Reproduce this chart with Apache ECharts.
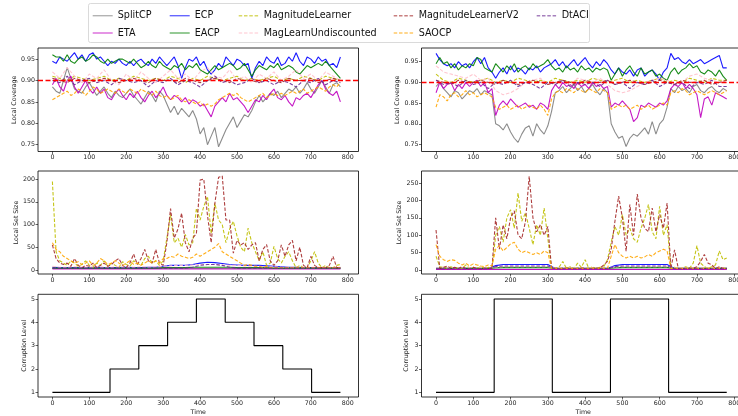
<!DOCTYPE html>
<html>
<head>
<meta charset="utf-8">
<script src="https://cdn.jsdelivr.net/npm/echarts@6/dist/echarts.min.js"></script>
<style>
html, body { margin: 0; padding: 0; overflow: hidden; background: #fff; }
#chart { width: 760px; height: 416px; }
</style>
</head>
<body>
<div id="chart"></div>
<script>
// methods, in legend / drawing order
const methods = ['SplitCP', 'ETA', 'ECP', 'EACP', 'MagnitudeLearner', 'MagLearnUndiscounted', 'MagnitudeLearnerV2', 'SAOCP', 'DtACI']
const methodColors = ['#808080', '#bf00bf', '#0000ff', '#008000', '#bfbf00', '#ffc0cb', '#a52a2a', '#ffa500', '#6a2c91']
const dashedMethods = ['MagnitudeLearner', 'MagLearnUndiscounted', 'MagnitudeLearnerV2', 'SAOCP', 'DtACI']

const xTicks = [0, 100, 200, 300, 400, 500, 600, 700, 800]
const coverageTicks = [0.75, 0.80, 0.85, 0.90, 0.95]
const setSizeTicksLeft = [0, 50, 100, 150, 200]
const setSizeTicksRight = [0, 50, 100, 150, 200, 250]
const levelTicks = [1, 2, 3, 4, 5]
const targetCoverage = 0.9

/** local coverage, left run (every 10 steps unless noted) */
const covL_SplitCP = [.885,.875,.87,.9,.93,.905,.88,.875,.87,.885,
  .895,.88,.865,.875,.885,.87,.86,.875,.865,.86,
  .87,.88,.865,.855,.845,.86,.875,.865,.85,.875,
  .865,.845,.825,.84,.82,.835,.825,.815,.83,.81,
  .775,.79,.75,.77,.79,.745,.765,.785,.8,.815,
  .79,.805,.82,.815,.83,.85,.865,.85,.86,.87,
  .865,.875,.86,.87,.88,.875,.885,.87,.88,.895,
  .88,.87,.885,.9,.885,.87,.89,.895,.885]
const covL_ETA = [.89,.905,.885,.875,.9,.91,.885,.87,.885,.9,
  .88,.87,.885,.87,.88,.86,.855,.87,.88,.865,
  .855,.87,.86,.875,.86,.85,.865,.875,.86,.87,
  .885,.865,.855,.865,.86,.85,.86,.845,.855,.85,
  .84,.845,.83,.815,.84,.85,.86,.85,.87,.855,
  .86,.85,.84,.825,.84,.855,.85,.865,.855,.87,
  .88,.86,.855,.865,.85,.84,.86,.855,.865,.87,
  .86,.875,.89,.9,.88,.87,.865,.875,.85]
const covL_ECP = [.945,.94,.955,.95,.945,.955,.965,.95,.96,.945,
  .96,.965,.95,.955,.945,.935,.945,.94,.95,.94,
  .935,.945,.935,.945,.95,.94,.935,.95,.94,.955,
  .945,.935,.945,.955,.935,.905,.93,.95,.945,.955,
  .935,.945,.925,.915,.925,.94,.93,.955,.945,.935,
  .95,.945,.935,.94,.905,.93,.945,.935,.955,.945,
  .94,.955,.935,.94,.955,.945,.965,.945,.935,.955,
  .95,.94,.955,.945,.95,.935,.94,.93,.955]
const covL_EACP = [.96,.955,.955,.945,.96,.945,.94,.95,.955,.945,
  .95,.96,.955,.945,.94,.95,.94,.945,.95,.95,
  .945,.94,.95,.94,.93,.935,.945,.935,.93,.945,
  .935,.93,.925,.935,.93,.94,.925,.935,.93,.94,
  .925,.92,.915,.925,.935,.925,.93,.935,.94,.935,
  .925,.93,.94,.925,.91,.925,.935,.93,.925,.935,
  .93,.94,.925,.93,.935,.93,.92,.915,.925,.935,
  .93,.935,.94,.935,.945,.935,.925,.915,.905]
const covL_SAOCP = [.855,.86,.865,.87,.875,.865,.87,.88,.875,.865,
  .875,.885,.88,.87,.875,.88,.875,.87,.88,.875,
  .87,.88,.875,.87,.88,.875,.87,.865,.875,.865,
  .86,.865,.855,.86,.865,.855,.85,.855,.85,.845,
  .85,.84,.845,.84,.845,.855,.86,.865,.87,.865,
  .87,.86,.855,.85,.855,.86,.865,.87,.86,.865,
  .87,.865,.87,.865,.87,.875,.87,.875,.88,.87,
  .875,.88,.885,.88,.875,.885,.89,.885,.895]
// every 20 steps
const covL_ML = [.91,.905,.9,.91,.905,.9,.905,.91,.9,.905,.9,.91,.905,.9,.905,.9,.91,.905,.895,.905,
  .9,.91,.905,.9,.905,.91,.9,.905,.9,.905,.91,.9,.905,.9,.91,.905,.9,.91,.905,.9]
const covL_MLU = [.92,.905,.93,.91,.895,.915,.905,.925,.9,.89,.915,.9,.92,.905,.895,.91,.925,.905,.915,.9,
  .92,.93,.91,.905,.925,.9,.91,.895,.915,.905,.92,.9,.91,.925,.905,.915,.9,.92,.91,.9]
const covL_MLV2 = [.905,.9,.895,.905,.9,.895,.9,.905,.9,.895,.9,.905,.9,.895,.905,.9,.9,.895,.905,.9,
  .895,.9,.905,.9,.895,.905,.9,.9,.895,.905,.9,.895,.905,.9,.9,.905,.895,.9,.905,.9]
const covL_DtACI = [.9,.895,.91,.89,.9,.905,.895,.9,.89,.905,.9,.895,.9,.885,.9,.895,.905,.89,.9,.895,
  .885,.9,.91,.895,.9,.89,.895,.905,.895,.9,.89,.9,.895,.885,.9,.895,.905,.89,.9,.895]

/** local coverage, right run */
const covR_SplitCP = [.89,.9,.885,.875,.865,.88,.875,.86,.87,.88,
  .875,.885,.87,.88,.875,.87,.8,.795,.785,.8,
  .78,.765,.755,.775,.79,.795,.77,.8,.785,.775,
  .795,.83,.875,.88,.89,.875,.885,.895,.88,.89,
  .875,.885,.895,.88,.87,.885,.875,.8,.78,.765,
  .77,.745,.765,.775,.77,.78,.79,.775,.805,.775,
  .8,.81,.84,.885,.875,.89,.88,.885,.875,.89,
  .895,.88,.875,.885,.89,.88,.875,.885,.88]
const covR_ETA = [.875,.9,.885,.895,.9,.88,.895,.885,.9,.89,
  .9,.905,.89,.9,.875,.885,.82,.845,.855,.845,
  .86,.85,.84,.845,.85,.84,.845,.835,.85,.845,
  .835,.88,.895,.885,.9,.89,.895,.885,.9,.89,
  .895,.885,.9,.89,.895,.885,.89,.84,.85,.845,
  .855,.845,.835,.805,.815,.845,.84,.85,.845,.84,
  .85,.845,.855,.885,.895,.89,.9,.885,.895,.885,
  .87,.815,.86,.865,.845,.875,.87,.865,.86]
const covR_ECP = [.97,.955,.945,.94,.945,.935,.95,.94,.945,.935,
  .95,.96,.945,.96,.935,.925,.91,.925,.935,.92,
  .94,.925,.935,.93,.92,.935,.93,.94,.925,.935,
  .94,.945,.955,.94,.95,.935,.945,.955,.94,.95,
  .96,.945,.935,.95,.94,.955,.945,.93,.92,.935,
  .925,.92,.93,.915,.93,.935,.915,.925,.93,.92,
  .905,.925,.935,.97,.955,.96,.95,.945,.955,.945,
  .95,.955,.945,.95,.955,.96,.965,.935,.935]
const covR_EACP = [.945,.96,.945,.95,.935,.945,.93,.94,.935,.945,
  .94,.96,.955,.935,.93,.925,.945,.935,.925,.94,
  .93,.945,.925,.935,.94,.93,.945,.935,.94,.945,
  .955,.94,.93,.935,.925,.94,.93,.935,.925,.94,
  .93,.935,.925,.935,.93,.935,.93,.905,.92,.935,
  .915,.93,.94,.925,.915,.935,.92,.925,.93,.915,
  .92,.91,.905,.925,.935,.92,.93,.935,.945,.935,
  .94,.925,.92,.93,.925,.915,.93,.915,.905]
const covR_SAOCP = [.84,.87,.865,.855,.87,.875,.865,.87,.88,.87,
  .875,.865,.87,.875,.87,.865,.84,.835,.84,.845,
  .835,.84,.845,.835,.84,.845,.84,.835,.845,.835,
  .82,.86,.875,.88,.875,.885,.88,.875,.885,.88,
  .875,.885,.88,.875,.885,.88,.875,.835,.84,.845,
  .84,.845,.835,.84,.845,.835,.84,.845,.835,.84,
  .845,.85,.845,.875,.88,.875,.885,.88,.87,.875,
  .88,.875,.87,.875,.88,.875,.87,.875,.88]
const covR_ML = [.92,.905,.9,.91,.905,.9,.905,.91,.9,.905,.9,.91,.905,.9,.905,.9,.91,.905,.9,.905,
  .9,.91,.905,.9,.905,.91,.9,.905,.9,.905,.91,.9,.905,.9,.91,.905,.9,.91,.905,.905]
const covR_MLU = [.94,.925,.92,.915,.91,.92,.905,.91,.88,.87,.875,.885,.9,.905,.91,.895,.9,.905,.895,.91,
  .905,.9,.91,.895,.88,.875,.88,.89,.9,.905,.91,.905,.895,.9,.915,.92,.91,.905,.9,.9]
const covR_MLV2 = [.905,.9,.895,.905,.9,.9,.905,.9,.895,.905,.9,.895,.9,.905,.9,.895,.9,.905,.9,.895,
  .905,.9,.9,.905,.895,.9,.905,.9,.895,.9,.905,.9,.895,.905,.9,.9,.905,.895,.9,.905]
const covR_DtACI = [.905,.895,.9,.89,.905,.895,.9,.885,.9,.895,.905,.89,.9,.895,.885,.9,.895,.905,.89,.9,
  .895,.9,.89,.905,.895,.9,.885,.9,.895,.905,.89,.9,.895,.9,.885,.9,.895,.905,.89,.89]

/** local set size, left run */
const setL_MLV2 = [55,25,15,12,15,8,25,10,5,10,
  8,15,5,10,15,8,12,20,25,10,
  5,15,35,12,25,45,20,15,45,15,
  10,60,135,70,90,125,60,40,70,80,
  198,200,120,60,147,204,207,110,110,37,
  65,55,60,45,55,60,20,45,56,20,
  10,20,55,30,55,65,20,50,10,5,
  30,10,5,5,5,10,30,5,5]
const setL_ML = [195,40,20,15,10,20,15,8,12,20,
  10,5,15,10,20,8,15,10,5,18,
  12,8,20,15,10,25,30,15,20,10,
  20,70,122,60,70,50,78,55,60,136,
  110,140,162,80,147,110,100,60,90,107,
  75,50,40,92,60,40,20,40,10,15,
  52,25,15,30,40,20,5,10,5,5,
  20,40,15,5,10,5,5,10,12]
const setL_SAOCP = [60,45,40,30,25,20,15,18,12,15,
  20,10,15,25,20,12,15,20,15,10,
  15,20,12,15,10,15,20,15,20,15,
  25,25,30,28,35,30,28,25,28,35,
  30,35,40,45,50,58,40,35,30,25,
  20,15,10,12,10,8,8,5,8,5,
  5,5,5,5,5,5,5,5,5,5,
  5,5,5,5,5,5,5,5,5]
// every 20 steps
const setL_SplitCP = [3,3,3,3,3,3,3,3,3,3,3,3,3,3,3,3,3,3,3,3,3,3,3,3,3,3,3,3,3,3,3,3,3,3,3,3,3,3,3,3]
const setL_ETA = [2,2,2,2,2,2,2,2,2,2,2,2,2,2,2,2,2,2,2,2,2,2,2,2,2,2,2,2,2,2,2,2,2,2,2,2,2,2,2,2]
const setL_ECP = [6,5,5,5,5,5,6,5,5,5,6,5,5,6,6,8,10,10,10,12,15,17,16,14,12,11,10,10,10,9,8,7,6,6,5,5,5,5,5,5]
const setL_EACP = [4,4,4,4,4,4,4,4,4,4,4,4,4,4,4,5,5,5,5,6,6,6,6,6,6,5,5,5,5,5,4,4,4,4,4,4,4,4,4,4]
const setL_MLU = [8,6,6,7,6,6,7,6,6,7,6,6,7,6,7,8,9,10,10,11,12,12,12,11,10,10,9,8,8,7,7,6,6,6,6,6,6,6,6,6]
const setL_DtACI = [4,4,4,4,4,4,4,4,4,4,4,4,4,4,4,4,4,4,4,6,10,12,12,10,6,4,4,4,4,4,4,4,4,4,4,4,4,4,4,4]

/** local set size, right run */
const setR_MLV2 = [115,5,8,12,5,8,5,10,5,4,
  8,5,4,6,5,5,150,60,130,90,
  150,170,101,90,140,269,150,110,130,100,
  125,5,5,4,5,6,5,4,5,6,
  5,4,5,6,5,15,25,60,140,212,
  150,54,188,100,218,150,120,110,178,110,
  159,120,192,5,58,5,4,5,6,5,
  10,25,45,20,15,5,10,5,5]
const setR_ML = [40,10,8,5,10,5,8,5,15,5,
  8,5,10,5,8,5,100,125,80,150,
  173,120,221,140,164,120,73,130,100,178,
  90,5,5,8,25,5,10,5,20,8,
  30,5,10,5,8,10,30,80,125,100,
  159,100,120,90,80,120,149,188,110,90,
  183,100,130,5,8,5,5,10,5,20,
  70,20,10,5,10,15,55,30,35]
const setR_SAOCP = [73,40,30,25,30,28,20,15,20,12,
  18,15,12,10,15,12,60,70,55,65,
  75,80,60,50,55,50,45,50,45,55,
  50,5,5,5,5,5,5,5,5,5,
  5,5,5,5,5,5,5,40,73,50,
  40,35,40,35,40,35,38,45,40,50,
  55,60,55,5,5,5,5,5,5,5,
  5,5,5,5,5,5,5,5,5]
const setR_SplitCP = [3,3,3,3,3,3,3,3,3,3,3,3,3,3,3,3,3,3,3,3,3,3,3,3,3,3,3,3,3,3,3,3,3,3,3,3,3,3,3,3]
const setR_ETA = [2,2,2,2,2,2,2,2,2,2,2,2,2,2,2,2,2,2,2,2,2,2,2,2,2,2,2,2,2,2,2,2,2,2,2,2,2,2,2,2]
const setR_ECP = [5,5,5,5,5,5,5,5,13,16,16,16,16,16,16,16,5,5,5,5,5,5,5,5,13,16,16,16,16,16,16,16,5,5,5,5,5,5,5,5]
const setR_EACP = [5,5,5,5,5,5,5,5,7,8,8,8,8,8,8,8,5,5,5,5,5,5,5,5,7,8,8,8,8,8,8,8,5,5,5,5,5,5,5,5]
const setR_MLU = [6,6,6,6,6,6,6,6,9,10,10,10,10,10,10,10,6,6,6,6,6,6,6,6,9,10,10,10,10,10,10,10,6,6,6,6,6,6,6,6]
const setR_DtACI = [4,4,4,4,4,4,4,4,10,12,12,12,12,12,12,12,4,4,4,4,4,4,4,4,10,12,12,12,12,12,12,12,4,4,4,4,4,4,4,4]

/** corruption level schedule */
const levelTimesL = [0, 156, 234, 312, 390, 468, 546, 624, 702, 780]
const levelsL = [1, 2, 3, 4, 5, 4, 3, 2, 1, 1]
const levelTimesR = [0, 156, 312, 468, 624, 780]
const levelsR = [1, 5, 1, 5, 1, 1]

const fontFamily = 'DejaVu Sans'
const toPairs = (values, step) => values.map((v, i) => [i * step, v])

// [values, step] per method, in method order
const covLeft = [[covL_SplitCP, 10], [covL_ETA, 10], [covL_ECP, 10], [covL_EACP, 10], [covL_ML, 20], [covL_MLU, 20], [covL_MLV2, 20], [covL_SAOCP, 10], [covL_DtACI, 20]]
const covRight = [[covR_SplitCP, 10], [covR_ETA, 10], [covR_ECP, 10], [covR_EACP, 10], [covR_ML, 20], [covR_MLU, 20], [covR_MLV2, 20], [covR_SAOCP, 10], [covR_DtACI, 20]]
const setLeft = [[setL_SplitCP, 20], [setL_ETA, 20], [setL_ECP, 20], [setL_EACP, 20], [setL_ML, 10], [setL_MLU, 20], [setL_MLV2, 10], [setL_SAOCP, 10], [setL_DtACI, 20]]
const setRight = [[setR_SplitCP, 20], [setR_ETA, 20], [setR_ECP, 20], [setR_EACP, 20], [setR_ML, 10], [setR_MLU, 20], [setR_MLV2, 10], [setR_SAOCP, 10], [setR_DtACI, 20]]

const makeSeries = (panel, gridIndex, withTarget) => panel.map(([values, step], i) => {
    const name = methods[i]
    const s = {
        name: name,
        type: 'line',
        xAxisIndex: gridIndex,
        yAxisIndex: gridIndex,
        data: toPairs(values, step),
        symbol: 'none',
        showSymbol: false,
        animation: false,
        itemStyle: { color: methodColors[i] },
        lineStyle: {
            color: methodColors[i],
            width: 1.1,
            opacity: 0.9,
            type: dashedMethods.includes(name) ? [3.5, 1.8] : 'solid'
        }
    }
    if (withTarget && i === panel.length - 1) {
        s.markLine = {
            silent: true,
            symbol: 'none',
            label: { show: false },
            lineStyle: { color: '#ff0000', type: [5, 2.5], width: 1.3, opacity: 1 },
            data: [{ yAxis: targetCoverage }]
        }
    }
    return s
})

const levelSeries = (times, levels, gridIndex) => ({
    type: 'line',
    xAxisIndex: gridIndex,
    yAxisIndex: gridIndex,
    data: times.map((t, i) => [t, levels[i]]),
    step: 'end',
    symbol: 'none',
    animation: false,
    lineStyle: { color: '#000', width: 1.1 }
})

const tickText = { fontSize: 6.3, color: '#222', fontFamily: fontFamily }

const xAxisFor = (gridIndex, withName) => ({
    type: 'value',
    gridIndex: gridIndex,
    min: -39,
    max: 829,
    axisLine: { show: false, onZero: false },
    splitLine: { show: false },
    axisTick: { customValues: xTicks, length: 2.5, lineStyle: { color: '#000', width: 0.6 } },
    axisLabel: Object.assign({ customValues: xTicks, margin: 3 }, tickText),
    name: withName ? 'Time' : '',
    nameLocation: 'middle',
    nameGap: 12,
    nameTextStyle: tickText
})

const yAxisFor = (gridIndex, min, max, ticks, name, nameGap, digits) => ({
    type: 'value',
    gridIndex: gridIndex,
    min: min,
    max: max,
    axisLine: { show: false, onZero: false },
    splitLine: { show: false },
    axisTick: { customValues: ticks, length: 2.5, lineStyle: { color: '#000', width: 0.6 } },
    axisLabel: Object.assign({ customValues: ticks, margin: 3, formatter: v => v.toFixed(digits) }, tickText),
    name: name,
    nameLocation: 'middle',
    nameGap: nameGap,
    nameTextStyle: tickText
})

const grids = [
    { left: 38, top: 48, width: 320.5, height: 103.5 },
    { left: 421.5, top: 48, width: 323.5, height: 103.5 },
    { left: 38, top: 171, width: 320.5, height: 103 },
    { left: 421.5, top: 171, width: 323.5, height: 103 },
    { left: 38, top: 294.3, width: 320.5, height: 103 },
    { left: 421.5, top: 294.3, width: 323.5, height: 103 }
].map(g => Object.assign({ show: true, borderColor: '#000', borderWidth: 0.8, backgroundColor: 'transparent' }, g))

// legend: 5 columns of 2, column-major like matplotlib
const legendLefts = [92, 169, 238, 393, 536]
const legends = legendLefts.map((left, c) => ({
    data: methods.slice(c * 2, c * 2 + 2),
    left: left,
    top: 10.7,
    orient: 'vertical',
    padding: 0,
    itemWidth: 20,
    itemHeight: 10,
    itemGap: 7.3,
    selectedMode: false,
    itemStyle: { opacity: 0 },
    lineStyle: { opacity: 0.6, width: 1.4 },
    textStyle: { fontSize: 9.6, fontFamily: fontFamily, color: '#111' }
}))

const chart = echarts.init(document.getElementById('chart'))
chart.setOption({
    animation: false,
    textStyle: { fontFamily: fontFamily },
    grid: grids,
    legend: legends,
    graphic: [{
        type: 'rect',
        shape: { x: 88.5, y: 3.5, width: 501, height: 39, r: 2 },
        style: { fill: '#fff', stroke: '#d0d0d0', lineWidth: 0.8 },
        z: -1
    }],
    xAxis: [
        xAxisFor(0, false), xAxisFor(1, false),
        xAxisFor(2, false), xAxisFor(3, false),
        xAxisFor(4, true), xAxisFor(5, true)
    ],
    yAxis: [
        yAxisFor(0, 0.734, 0.976, coverageTicks, 'Local Coverage', 20, 2),
        yAxisFor(1, 0.733, 0.983, coverageTicks, 'Local Coverage', 20, 2),
        yAxisFor(2, -9, 218, setSizeTicksLeft, 'Local Set Size', 19, 0),
        yAxisFor(3, -11, 284, setSizeTicksRight, 'Local Set Size', 19, 0),
        yAxisFor(4, 0.8, 5.2, levelTicks, 'Corruption Level', 11, 0),
        yAxisFor(5, 0.8, 5.2, levelTicks, 'Corruption Level', 12, 0)
    ],
    series: [].concat(
        makeSeries(covLeft, 0, true),
        makeSeries(covRight, 1, true),
        makeSeries(setLeft, 2, false),
        makeSeries(setRight, 3, false),
        [levelSeries(levelTimesL, levelsL, 4), levelSeries(levelTimesR, levelsR, 5)]
    )
})
</script>
</body>
</html>
